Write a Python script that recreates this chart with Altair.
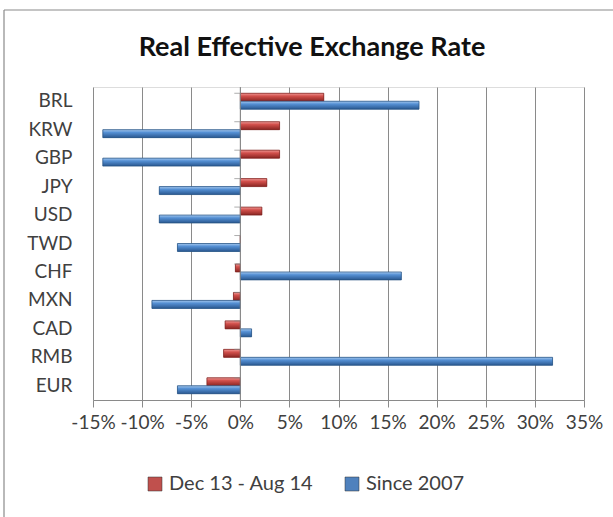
import altair as alt
import pandas as pd

# Real effective exchange rate changes by currency
currencies = ["BRL", "KRW", "GBP", "JPY", "USD", "TWD", "CHF", "MXN", "CAD", "RMB", "EUR"]
recent = [0.085, 0.040, 0.040, 0.027, 0.022, 0.0, -0.005, -0.007, -0.0155, -0.017, -0.034]
since_2007 = [0.182, -0.140, -0.140, -0.0825, -0.0825, -0.064, 0.164, -0.090, 0.0115, 0.318, -0.064]
series_names = ["Dec 13 - Aug 14", "Since 2007"]

rows = []
for c, a, b in zip(currencies, recent, since_2007):
    rows.append({"currency": c, "series": series_names[0], "value": a})
    rows.append({"currency": c, "series": series_names[1], "value": b})
df = pd.DataFrame(rows)

FONT = "Lato"
LEFT, TOP = 93, 87
W, H = 491, 313

red_grad = alt.Gradient(
    gradient="linear", x1=0, y1=0, x2=0, y2=1,
    stops=[alt.GradientStop(offset=0, color="#ef9a97"),
           alt.GradientStop(offset=0.35, color="#d2504c"),
           alt.GradientStop(offset=1, color="#8a2522")],
)
blue_grad = alt.Gradient(
    gradient="linear", x1=0, y1=0, x2=0, y2=1,
    stops=[alt.GradientStop(offset=0, color="#a6c9ef"),
           alt.GradientStop(offset=0.35, color="#5590d4"),
           alt.GradientStop(offset=1, color="#2a5890")],
)

x_enc = alt.X(
    "value:Q",
    scale=alt.Scale(domain=[-0.15, 0.35], nice=False, zero=False),
    axis=alt.Axis(
        values=[-0.15, -0.10, -0.05, 0, 0.05, 0.10, 0.15, 0.20, 0.25, 0.30, 0.35],
        labelExpr="(datum.value < 0 ? '-' : '') + format(abs(datum.value), '.0%')",
        title=None, grid=True, gridColor="#8a8a8a", gridWidth=1,
        domainColor="#8a8a8a", tickColor="#8a8a8a", tickSize=7,
        labelFontSize=19, labelColor="#404040", labelFont=FONT, labelPadding=6,
        labelFlush=False, labelOverlap=False,
    ),
)
y_enc = alt.Y(
    "currency:N", sort=currencies,
    scale=alt.Scale(paddingInner=0.44, paddingOuter=0.22),
    axis=alt.Axis(
        title=None, domain=False, ticks=False, labelFontSize=19, labelColor="#404040",
        labelFont=FONT, labelPadding=21,
    ),
)
yoff = alt.YOffset("series:N", sort=series_names)

base = alt.Chart(df).encode(y=y_enc, yOffset=yoff)

legend_bars = base.mark_bar(strokeWidth=0).encode(
    x=x_enc,
    color=alt.Color(
        "series:N", sort=series_names,
        scale=alt.Scale(domain=series_names, range=["#c0504d", "#4f81bd"]),
        legend=alt.Legend(
            title=None, orient="none", direction="horizontal",
            legendX=52, legendY=387, symbolType="square", symbolSize=196,
            symbolStrokeColor="#333", symbolStrokeWidth=0.5,
            labelFontSize=20, labelFont=FONT, labelColor="#404040",
            columnPadding=28, labelOffset=4,
        ),
    ),
)

red_bars = base.mark_bar(fill=red_grad, stroke="#7a1f1d", strokeWidth=0.7).encode(
    x="value:Q"
).transform_filter(alt.datum.series == series_names[0])
blue_bars = base.mark_bar(fill=blue_grad, stroke="#24507f", strokeWidth=0.7).encode(
    x="value:Q"
).transform_filter(alt.datum.series == series_names[1])

# Vertical axis line at zero with category separator ticks on its left side
zero_rule = alt.Chart(pd.DataFrame({"z": [0]})).mark_rule(color="#8a8a8a").encode(
    x="z:Q", y=alt.value(0), y2=alt.value(H)
)
sep_ticks = alt.Chart(pd.DataFrame({"currency": currencies})).mark_tick(
    orient="horizontal", size=6, thickness=1, color="#8a8a8a", xOffset=-3
).encode(
    x=alt.datum(0),
    y=alt.Y("currency:N", sort=currencies, bandPosition=0),
)

# Chart frame: only the left and top edges fall inside the page
frame_top = alt.Chart(pd.DataFrame({"z": [0]})).mark_rule(
    color="#8a8a8a", strokeWidth=1.2
).encode(x=alt.value(4 - LEFT), x2=alt.value(W + 40), y=alt.value(10 - TOP))
frame_left = alt.Chart(pd.DataFrame({"z": [0]})).mark_rule(
    color="#8a8a8a", strokeWidth=1.2
).encode(x=alt.value(4 - LEFT), y=alt.value(10 - TOP), y2=alt.value(H + 130))

title = alt.Chart(pd.DataFrame({"t": ["Real Effective Exchange Rate"]})).mark_text(
    font=FONT, fontSize=27, fontWeight="bold", color="#111", align="center", baseline="middle"
).encode(text="t:N", x=alt.value(312 - LEFT), y=alt.value(48 - TOP))

chart = alt.layer(
    frame_top, frame_left, title, legend_bars, red_bars, blue_bars, zero_rule, sep_ticks
).properties(
    width=W, height=H,
    autosize=alt.AutoSizeParams(type="none"),
    padding={"left": LEFT, "top": TOP, "right": 613 - LEFT - W, "bottom": 517 - TOP - H},
).configure_view(stroke=None).configure(background="white")

chart.save("out.html", embed_options={"renderer": "svg", "actions": False})
